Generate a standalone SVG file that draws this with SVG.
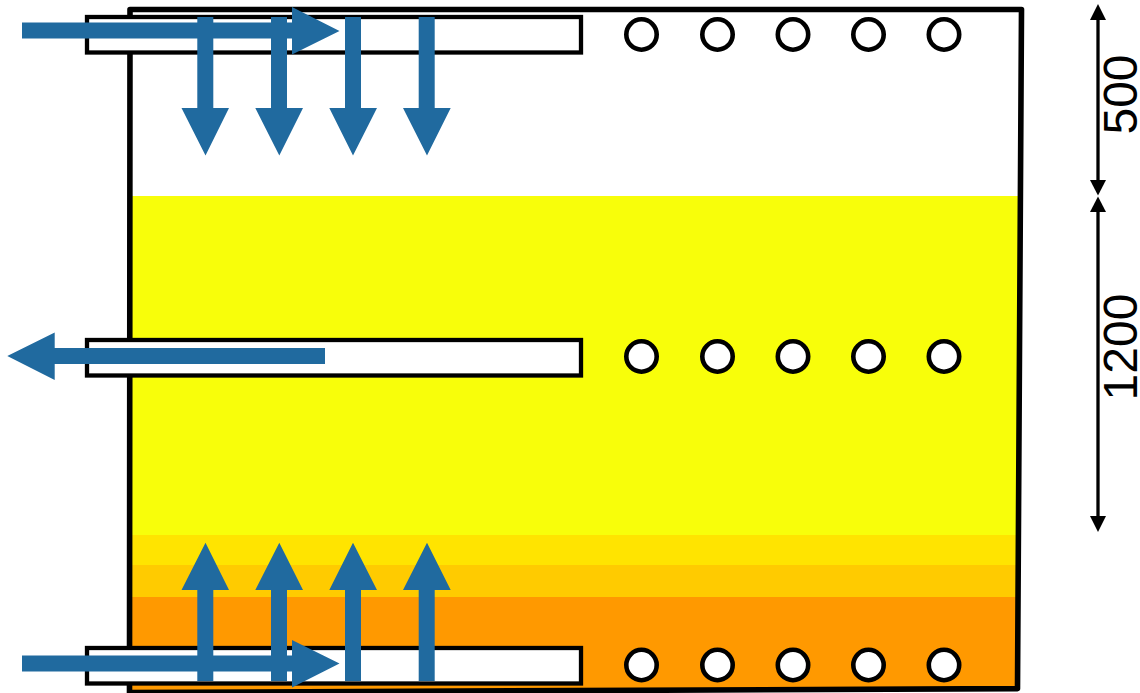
<svg xmlns="http://www.w3.org/2000/svg" width="1140" height="693" viewBox="0 0 1140 693">
<style>
.frame{fill:none;stroke:#000;stroke-width:5.6;stroke-linejoin:round}
.slot{fill:#fff;stroke:#000;stroke-width:4.3}
.hole{fill:#fff;stroke:#000;stroke-width:4.6}
.flow{fill:#206a9f}
.dim{stroke:#000;stroke-width:3.3;fill:none}
.tip{fill:#000}
.label{font-family:"Liberation Sans",Arial,sans-serif;font-size:48px;fill:#000;text-anchor:middle}
</style>
<rect width="1140" height="693" fill="#fff"/>
<g id="zones">
<polygon points="130,196 1020,196 1019.8,535 130,535" fill="#f8fe0a"/>
<polygon points="130,535 1019.8,535 1019.6,565 130,565" fill="#ffe400"/>
<polygon points="130,565 1019.6,565 1019.4,597 130,597" fill="#ffcb00"/>
<polygon points="130,597 1019.4,597 1018,688.6 130,692.6" fill="#ff9900"/>
</g>
<path id="frame" class="frame" d="M130,9.5 H1021.5 L1017.5,688.6 L129.5,692.6 Z"/>
<g id="slot-top"><rect class="slot" x="87" y="17" width="494" height="35.5"/></g>
<g id="slot-middle"><rect class="slot" x="87" y="340" width="494" height="35.5"/></g>
<g id="slot-bottom"><rect class="slot" x="87" y="648" width="494" height="35.5"/></g>
<g id="holes-top">
<circle class="hole" cx="641.5" cy="34.5" r="15.2"/><circle class="hole" cx="717.5" cy="34.5" r="15.2"/><circle class="hole" cx="793" cy="34.5" r="15.2"/><circle class="hole" cx="868.5" cy="34.5" r="15.2"/><circle class="hole" cx="944" cy="34.5" r="15.2"/>
</g>
<g id="holes-middle">
<circle class="hole" cx="641.5" cy="356.5" r="15.2"/><circle class="hole" cx="717.5" cy="356.5" r="15.2"/><circle class="hole" cx="793" cy="356.5" r="15.2"/><circle class="hole" cx="868.5" cy="356.5" r="15.2"/><circle class="hole" cx="944" cy="356.5" r="15.2"/>
</g>
<g id="holes-bottom">
<circle class="hole" cx="641.5" cy="665" r="15.2"/><circle class="hole" cx="717.5" cy="665" r="15.2"/><circle class="hole" cx="793" cy="665" r="15.2"/><circle class="hole" cx="868.5" cy="665" r="15.2"/><circle class="hole" cx="944" cy="665" r="15.2"/>
</g>
<g id="connectors">
<g id="flows">
<polygon class="flow" points="197.3,17 213.3,17 213.3,108 229,108 205.5,155.5 181.5,108 197.3,108"/>
<polygon class="flow" points="271,17 287,17 287,108 303,108 279.3,155.5 255.3,108 271,108"/>
<polygon class="flow" points="345,17 361,17 361,108 377,108 353,155.5 329.3,108 345,108"/>
<polygon class="flow" points="418.7,17 434.7,17 434.7,108 450.7,108 427,155.5 403,108 418.7,108"/>
<polygon class="flow" points="22,22.5 292,22.5 292,7 339.5,31 292,54.5 292,38.5 22,38.5"/>
<polygon class="flow" points="325,348 54.7,348 54.7,332.5 7.3,356 54.7,380 54.7,364 325,364"/>
<polygon class="flow" points="197.3,681 213.3,681 213.3,590 229,590 205.5,542.7 181.5,590 197.3,590"/>
<polygon class="flow" points="271,681 287,681 287,590 303,590 279.3,542.7 255.3,590 271,590"/>
<polygon class="flow" points="345,681 361,681 361,590 377,590 353,542.7 329.3,590 345,590"/>
<polygon class="flow" points="418.7,681 434.7,681 434.7,590 450.7,590 427,542.7 403,590 418.7,590"/>
<polygon class="flow" points="22,655.5 292,655.5 292,640 339.5,663.5 292,687.5 292,671.5 22,671.5"/>
</g>
<g id="dimensions">
<line class="dim" x1="1098" y1="18" x2="1098" y2="181"/>
<polygon class="tip" points="1098,4 1106,20 1090,20"/>
<polygon class="tip" points="1098,195.5 1106,180 1090,180"/>
<line class="dim" x1="1098" y1="211" x2="1098" y2="517"/>
<polygon class="tip" points="1098,196.5 1106,212 1090,212"/>
<polygon class="tip" points="1098,532 1106,516 1090,516"/>
</g>
</g>
<text class="label" transform="translate(1137,94.5) rotate(-90)">500</text>
<text class="label" transform="translate(1137,347) rotate(-90)">1200</text>
</svg>
